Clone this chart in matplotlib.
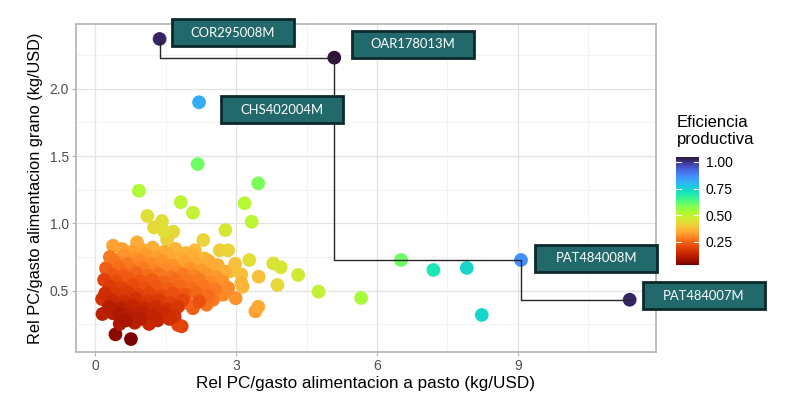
import matplotlib
matplotlib.use('Agg')
import matplotlib.pyplot as plt
from matplotlib.patches import Rectangle
from matplotlib.transforms import ScaledTranslation
import matplotlib.colors as mcolors

# --- data ------------------------------------------------------------------
# labelled (frontier) farms
lab_names = ['COR295008M', 'OAR178013M', 'CHS402004M', 'PAT484008M', 'PAT484007M']
lab_x = [1.37, 5.09, 2.21, 9.065, 11.38]
lab_y = [2.369, 2.23, 1.899, 0.728, 0.433]
lab_eff = [1.02, 1.047, 0.82, 0.86, 1.02]
frontier = ['COR295008M', 'OAR178013M', 'PAT484008M', 'PAT484007M']

# other farms: pasture ratio, grain ratio, efficiency
pasto = [
    6.51, 7.20, 7.91, 8.23, 5.66, 4.755, 2.18, 3.47, 0.93, 1.82, 2.08, 3.18, 3.33,
    1.11, 1.42, 1.25, 1.66, 1.53, 2.77, 2.30, 1.47, 0.38, 0.89, 2.65, 2.83,
    3.79, 3.95, 4.32, 3.88, 3.48, 3.28, 3.41, 3.47, 3.14, 2.99, 2.87, 3.11, 3.11,
    2.72, 2.51, 2.37, 2.08, 1.94, 1.84,
    0.43, 0.76, 0.145, 0.153, 0.52, 0.84, 1.146, 1.764, 0.38, 1.15, 0.41, 0.23, 0.196,
    0.57, 0.78, 1.02, 1.22, 1.47, 1.71, 1.93, 2.12,
    0.31, 0.62, 0.86, 1.07, 1.32, 1.56, 1.82, 2.06, 2.33,
    0.42, 0.69, 0.96, 1.17, 1.41, 1.63, 1.91, 2.17, 2.42, 2.61, 2.98,
    0.24, 0.51, 0.79, 1.01, 1.26, 1.52, 1.77, 2.02, 2.27, 2.52, 2.76,
    0.36, 0.61, 0.88, 1.12, 1.36, 1.61, 1.86, 2.11, 2.36, 2.58,
    0.19, 0.46, 0.71, 0.96, 1.21, 1.46, 1.71, 1.96, 2.21, 2.46, 2.71,
    0.31, 0.56, 0.81, 1.06, 1.31, 1.56, 1.81, 2.06, 2.31, 2.56, 2.83,
    0.21, 0.46, 0.68, 0.91, 1.16, 1.41, 1.66, 1.91, 2.16, 2.41,
    0.36, 0.61, 0.86, 1.11, 1.36, 1.61, 1.86, 2.21,
    0.29, 0.54, 0.79, 1.04, 1.29, 1.54, 1.76,
    0.52, 0.72, 0.99, 1.22, 1.48, 1.69,
    0.66, 0.97, 1.33, 1.58,
]
grano = [
    0.728, 0.654, 0.669, 0.320, 0.446, 0.493, 1.44, 1.297, 1.242, 1.157, 1.079, 1.149, 1.012,
    1.055, 1.017, 0.97, 0.938, 0.88, 0.95, 0.876, 0.94, 0.834, 0.859, 0.80, 0.80,
    0.703, 0.674, 0.617, 0.542, 0.604, 0.728, 0.347, 0.381, 0.53, 0.444, 0.644, 0.62, 0.557,
    0.47, 0.433, 0.396, 0.37, 0.41, 0.236,
    0.176, 0.141, 0.438, 0.327, 0.253, 0.262, 0.253, 0.245, 0.332, 0.32, 0.73, 0.668, 0.58,
    0.81, 0.79, 0.80, 0.82, 0.79, 0.81, 0.78, 0.80,
    0.75, 0.76, 0.74, 0.77, 0.75, 0.77, 0.74, 0.76, 0.74,
    0.71, 0.70, 0.72, 0.70, 0.72, 0.69, 0.71, 0.70, 0.72, 0.69, 0.70,
    0.66, 0.67, 0.65, 0.67, 0.65, 0.66, 0.64, 0.66, 0.65, 0.67, 0.64,
    0.62, 0.61, 0.63, 0.61, 0.62, 0.60, 0.62, 0.61, 0.62, 0.60,
    0.58, 0.57, 0.59, 0.57, 0.58, 0.56, 0.58, 0.57, 0.58, 0.56, 0.57,
    0.53, 0.52, 0.54, 0.52, 0.53, 0.51, 0.53, 0.52, 0.53, 0.51, 0.52,
    0.48, 0.47, 0.49, 0.47, 0.48, 0.46, 0.48, 0.47, 0.48, 0.46,
    0.43, 0.42, 0.44, 0.42, 0.43, 0.41, 0.43, 0.42,
    0.38, 0.37, 0.39, 0.37, 0.38, 0.36, 0.38,
    0.33, 0.32, 0.34, 0.32, 0.33, 0.31,
    0.28, 0.29, 0.28, 0.29,
]
eficiencia = [
    0.60, 0.70, 0.74, 0.74, 0.53, 0.49, 0.60, 0.59, 0.52, 0.50, 0.49, 0.51, 0.50,
    0.44, 0.44, 0.43, 0.43, 0.41, 0.46, 0.42, 0.44, 0.33, 0.35, 0.41, 0.42,
    0.45, 0.46, 0.47, 0.43, 0.38, 0.44, 0.33, 0.34, 0.36, 0.31, 0.38, 0.38, 0.36,
    0.30, 0.28, 0.27, 0.24, 0.25, 0.19,
    0.05, 0.03, 0.16, 0.12, 0.10, 0.12, 0.14, 0.20, 0.11, 0.17, 0.29, 0.25, 0.21,
    0.33, 0.33, 0.34, 0.35, 0.35, 0.36, 0.36, 0.37,
    0.28, 0.31, 0.31, 0.32, 0.33, 0.34, 0.34, 0.35, 0.36,
    0.27, 0.28, 0.30, 0.30, 0.31, 0.31, 0.33, 0.34, 0.35, 0.35, 0.38,
    0.24, 0.26, 0.27, 0.28, 0.29, 0.30, 0.30, 0.31, 0.32, 0.34, 0.35,
    0.23, 0.24, 0.25, 0.26, 0.27, 0.27, 0.28, 0.29, 0.31, 0.32,
    0.19, 0.21, 0.23, 0.23, 0.24, 0.25, 0.26, 0.27, 0.28, 0.30, 0.31,
    0.18, 0.19, 0.21, 0.22, 0.23, 0.24, 0.25, 0.26, 0.27, 0.28, 0.30,
    0.15, 0.17, 0.18, 0.19, 0.20, 0.21, 0.22, 0.23, 0.25, 0.26,
    0.14, 0.15, 0.16, 0.17, 0.18, 0.19, 0.20, 0.22,
    0.11, 0.12, 0.13, 0.14, 0.15, 0.16, 0.17,
    0.10, 0.11, 0.12, 0.13, 0.14, 0.16,
    0.09, 0.11, 0.13, 0.15,
]

# --- figure ------------------------------------------------------------------
plt.rcParams['font.family'] = ['Liberation Sans', 'DejaVu Sans']
fig = plt.figure(figsize=(7.9, 3.96), dpi=100)
ax = fig.add_axes([76 / 790, 44 / 396, 580 / 790, 328 / 396])

cmap = plt.get_cmap('turbo_r')
norm = mcolors.Normalize(vmin=0.03, vmax=1.047)

all_x = pasto + lab_x
all_y = grano + lab_y
all_e = eficiencia + lab_eff
sc = ax.scatter(all_x, all_y, c=all_e, cmap=cmap, norm=norm, s=98,
                linewidths=0, zorder=3)

# frontier staircase (vertical first, then horizontal)
fx = [lab_x[lab_names.index(n)] for n in frontier]
fy = [lab_y[lab_names.index(n)] for n in frontier]
ax.step(fx, fy, where='pre', color='#262626', lw=1.0, zorder=4)

# label boxes
box_pos = {
    'COR295008M': (2.925, 2.415),
    'OAR178013M': (6.758, 2.328),
    'CHS402004M': (3.98, 1.843),
    'PAT484008M': (10.667, 0.741),
    'PAT484007M': (12.963, 0.462),
}
bw, bh = 122 / 100, 27 / 100  # inches
for name in lab_names:
    bx, by = box_pos[name]
    tr = fig.dpi_scale_trans + ScaledTranslation(bx, by, ax.transData)
    ax.add_patch(Rectangle((-bw / 2, -bh / 2), bw, bh, transform=tr,
                           facecolor='#22696c', edgecolor='#0c2a2c', lw=2.0,
                           zorder=6, clip_on=False))
    ax.text(bx, by, name, color='white', fontsize=9.4, family=['Lato', 'DejaVu Sans'],
            ha='center', va='center', zorder=7, clip_on=False)

ax.set_xlim(-0.41, 11.94)
ax.set_ylim(0.045, 2.48)
ax.set_xticks([0, 3, 6, 9])
ax.set_xticks([1.5, 4.5, 7.5, 10.5], minor=True)
ax.set_yticks([0.5, 1.0, 1.5, 2.0])
ax.set_yticklabels(['0.5', '1.0', '1.5', '2.0'])
ax.set_yticks([0.25, 0.75, 1.25, 1.75, 2.25], minor=True)
ax.grid(which='major', color='#e3e3e3', lw=0.9, zorder=0)
ax.grid(which='minor', color='#eeeeee', lw=0.5, zorder=0)
ax.set_axisbelow(True)
for sp in ax.spines.values():
    sp.set_color('#b3b3b3')
    sp.set_linewidth(1.2)
ax.tick_params(which='major', length=3, color='#b3b3b3', labelcolor='#4d4d4d',
               labelsize=10, pad=2)
ax.tick_params(which='minor', length=0)

ax.set_xlabel('Rel PC/gasto alimentacion a pasto (kg/USD)', fontsize=12.3, labelpad=2)
ax.set_ylabel('Rel PC/gasto alimentacion grano (kg/USD)', fontsize=11.8, labelpad=5)

# colour bar
cax = fig.add_axes([676 / 790, (396 - 265) / 396, 23 / 790, 108 / 396])
cb = fig.colorbar(sc, cax=cax)
cb.outline.set_visible(False)
cb.set_ticks([0.25, 0.5, 0.75, 1.0])
cb.set_ticklabels(['0.25', '0.50', '0.75', '1.00'])
cax.tick_params(length=0, labelsize=10, labelcolor='black', pad=5)
for t in [0.25, 0.5, 0.75, 1.0]:
    cax.plot([0, 0.2], [t, t], color='white', lw=0.8, transform=cax.get_yaxis_transform())
    cax.plot([0.8, 1.0], [t, t], color='white', lw=0.8, transform=cax.get_yaxis_transform())
fig.text(677 / 790, 1 - 115 / 396, 'Eficiencia\nproductiva', fontsize=12,
         va='top', ha='left', linespacing=1.15)

fig.savefig('out.png', dpi=100)
